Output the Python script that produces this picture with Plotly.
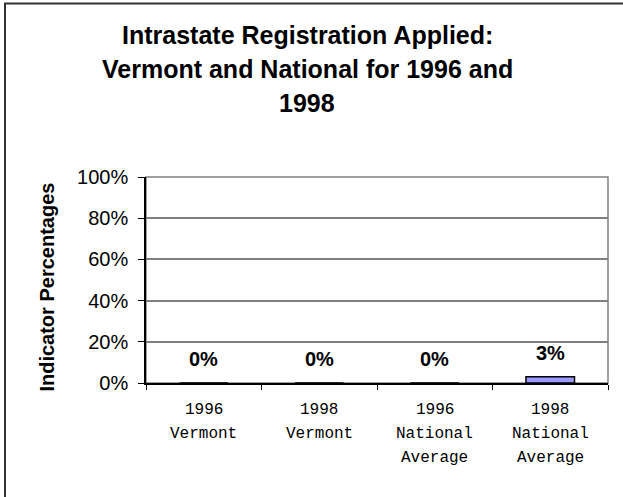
import plotly.graph_objects as go

categories = ["1996 Vermont", "1998 Vermont", "1996 National Average", "1998 National Average"]
category_lines = [["1996", "Vermont"], ["1998", "Vermont"], ["1996", "National", "Average"], ["1998", "National", "Average"]]
values = [0, 0, 0, 3]
y_ticks = [0, 20, 40, 60, 80, 100]
y_tick_labels = ["0%", "20%", "40%", "60%", "80%", "100%"]
title_lines = ["Intrastate Registration Applied:", "Vermont and National for 1996 and", "1998"]
y_title = "Indicator Percentages"

SANS = "Arial, 'Liberation Sans', sans-serif"
MONO = "'Courier New', 'Liberation Mono', monospace"

fig = go.Figure()
fig.add_trace(go.Bar(
    x=categories, y=values, width=0.42,
    marker=dict(color="#9999FF", line=dict(color="black", width=1.5)),
    hoverinfo="skip",
))

annotations = []
# data labels
for c, v in zip(categories, values):
    annotations.append(dict(x=c, y=v, xref="x", yref="y", text=f"<b>{v}%</b>",
                            showarrow=False, yanchor="middle", yshift=24,
                            font=dict(family=SANS, size=20, color="black")))
# category labels
for c, lines in zip(categories, category_lines):
    for i, line in enumerate(lines):
        annotations.append(dict(x=c, y=0, xref="x", yref="paper", text=line,
                                showarrow=False, yanchor="middle", yshift=-27 - 24 * i,
                                font=dict(family=MONO, size=16, color="black")))
# title
title_y = [1.689, 1.524, 1.359]
for line, ty in zip(title_lines, title_y):
    annotations.append(dict(x=0.3485, y=ty, xref="paper", yref="paper", text=f"<b>{line}</b>",
                            showarrow=False, xanchor="center", yanchor="middle",
                            font=dict(family=SANS, size=25, color="black")))
# y-axis title
annotations.append(dict(x=-0.2143, y=0.468, xref="paper", yref="paper", text=f"<b>{y_title}</b>",
                        showarrow=False, textangle=-90, xanchor="center", yanchor="middle",
                        font=dict(family=SANS, size=20, color="black")))

fig.update_layout(
    width=623, height=497,
    margin=dict(l=146, r=15, t=177, b=114),
    paper_bgcolor="white", plot_bgcolor="white",
    showlegend=False,
    annotations=annotations,
    shapes=[
        # outer chart border
        dict(type="rect", xref="paper", yref="paper", x0=-0.3052, x1=1.06, y0=-0.6, y1=1.842,
             line=dict(color="#333333", width=2), fillcolor="rgba(0,0,0,0)", layer="below"),
        # plot area border (top/right gray)
        dict(type="rect", xref="paper", yref="paper", x0=0, x1=1, y0=0, y1=1,
             line=dict(color="#808080", width=1.5), fillcolor="rgba(0,0,0,0)", layer="below"),
    ],
)

fig.update_xaxes(
    type="category", categoryorder="array", categoryarray=categories,
    showticklabels=False, showgrid=False,
    showline=True, linecolor="black", linewidth=1.5,
    ticks="outside", tickson="boundaries", ticklen=5, tickcolor="black", tickwidth=1,
    zeroline=False,
)
fig.update_yaxes(
    range=[0, 100], tickvals=y_ticks, ticktext=y_tick_labels,
    showgrid=True, gridcolor="#808080", gridwidth=1.5,
    showline=True, linecolor="black", linewidth=1.5,
    ticks="outside", ticklen=6, tickcolor="black", tickwidth=1,
    ticklabelstandoff=6,
    tickfont=dict(family=SANS, size=20, color="black"),
    zeroline=False,
)

fig.write_html("out.html", config={"displayModeBar": False},
               post_script="document.body.style.margin='0';document.body.style.overflow='hidden';")
